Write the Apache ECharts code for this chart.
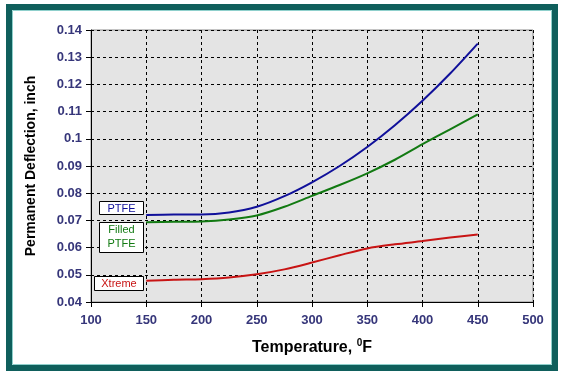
<!DOCTYPE html>
<html>
<head>
<meta charset="utf-8">
<script src="https://cdn.jsdelivr.net/npm/echarts@6/dist/echarts.min.js"></script>
<style>
html,body{margin:0;padding:0;background:#fff;}
#c{width:566px;height:379px;}
</style>
</head>
<body>
<div id="c"></div>
<script>
const temps = [150,175,200,225,250,275,300,325,350,375,400,425,450];
const ptfe = [0.0720,0.0722,0.0722,0.0729,0.0750,0.0789,0.0840,0.0900,0.0970,0.1050,0.1140,0.1240,0.1350];
const filledPtfe = [0.0693,0.0695,0.0696,0.0703,0.0718,0.0750,0.0790,0.0830,0.0873,0.0923,0.0980,0.1035,0.1090];
const xtreme = [0.0478,0.0482,0.0484,0.0490,0.0502,0.0520,0.0545,0.0572,0.0597,0.0612,0.0624,0.0637,0.0648];
const seriesNames = ['PTFE','Filled PTFE','Xtreme'];
const xTicks = [100,150,200,250,300,350,400,450,500];
const yTicks = [0.04,0.05,0.06,0.07,0.08,0.09,0.1,0.11,0.12,0.13,0.14];

const pair = (ys) => temps.map((t,i)=>[t, ys[i]]);
const font = 'Liberation Sans, Arial, sans-serif';
const tickColor = '#36367a';

const chart = echarts.init(document.getElementById('c'), null, {renderer:'canvas'});
chart.setOption({
  animation:false,
  backgroundColor:'#ffffff',
  grid:{left:91, top:30, right:33, bottom:77, show:true, backgroundColor:'#e4e4e4', borderColor:'#8a8a8a', borderWidth:1},
  xAxis:{
    type:'value', min:xTicks[0], max:xTicks[xTicks.length-1], interval:50,
    name:'{a|Temperature, }{s|0}{a|F}', nameLocation:'middle', nameGap:36,
    nameTextStyle:{rich:{
      a:{fontFamily:font, fontSize:16, fontWeight:'bold', color:'#000'},
      s:{fontFamily:font, fontSize:10, fontWeight:'bold', color:'#000', padding:[0,0,10,0]}
    }},
    axisLine:{show:true, onZero:false, lineStyle:{color:'#000', width:1}},
    axisTick:{show:true, inside:false, length:5, lineStyle:{color:'#000'}},
    axisLabel:{margin:12, color:tickColor, fontFamily:font, fontSize:13, fontWeight:'bold'},
    splitLine:{show:true, lineStyle:{color:'#000', type:[3,3], width:1}}
  },
  yAxis:{
    type:'value', min:yTicks[0], max:yTicks[yTicks.length-1], interval:0.01,
    name:'Permanent Deflection, inch', nameLocation:'middle', nameGap:53, nameRotate:90,
    nameTextStyle:{fontFamily:font, fontSize:14, fontWeight:'bold', color:'#000'},
    axisLine:{show:true, onZero:false, lineStyle:{color:'#000', width:1}},
    axisTick:{show:true, inside:false, length:5, lineStyle:{color:'#000'}},
    axisLabel:{margin:9, color:tickColor, fontFamily:font, fontSize:13, fontWeight:'bold',
      formatter:(v)=>String(Math.round(v*100)/100)},
    splitLine:{show:true, lineStyle:{color:'#000', type:[3,3], width:1}}
  },
  series:[
    {name:seriesNames[0], type:'line', data:pair(ptfe), smooth:0.3, showSymbol:false, lineStyle:{color:'#10109a', width:2}, itemStyle:{color:'#10109a'}},
    {name:seriesNames[1], type:'line', data:pair(filledPtfe), smooth:0.3, showSymbol:false, lineStyle:{color:'#127a12', width:2}, itemStyle:{color:'#127a12'}},
    {name:seriesNames[2], type:'line', data:pair(xtreme), smooth:0.3, showSymbol:false, lineStyle:{color:'#c81414', width:2}, itemStyle:{color:'#c81414'}}
  ],
  graphic:[
    {type:'rect', shape:{x:9, y:7, width:546, height:361}, style:{fill:null, stroke:'#0f5f5c', lineWidth:6}, silent:true, z:100},
    {type:'rect', shape:{x:12.5, y:10.5, width:539, height:354}, style:{fill:null, stroke:'#8fd0cc', lineWidth:1}, silent:true, z:100},
    {type:'rect', z:90, shape:{x:99.5, y:201.5, width:44, height:13}, style:{fill:'#fff', stroke:'#000', lineWidth:1}},
    {type:'text', z:91, x:121.5, y:208.5, style:{text:seriesNames[0], fill:'#10109a', font:'11px '+font, align:'center', verticalAlign:'middle'}},
    {type:'rect', z:90, shape:{x:99.5, y:222.5, width:44, height:30}, style:{fill:'#fff', stroke:'#000', lineWidth:1}},
    {type:'text', z:91, x:121.5, y:230, style:{text:seriesNames[1].split(' ')[0], fill:'#127a12', font:'11px '+font, align:'center', verticalAlign:'middle'}},
    {type:'text', z:91, x:121.5, y:244, style:{text:seriesNames[1].split(' ')[1], fill:'#127a12', font:'11px '+font, align:'center', verticalAlign:'middle'}},
    {type:'rect', z:90, shape:{x:94.5, y:276.5, width:49, height:14}, style:{fill:'#fff', stroke:'#000', lineWidth:1}},
    {type:'text', z:91, x:119, y:284, style:{text:seriesNames[2], fill:'#c81414', font:'11px '+font, align:'center', verticalAlign:'middle'}}
  ]
});
</script>
</body>
</html>
